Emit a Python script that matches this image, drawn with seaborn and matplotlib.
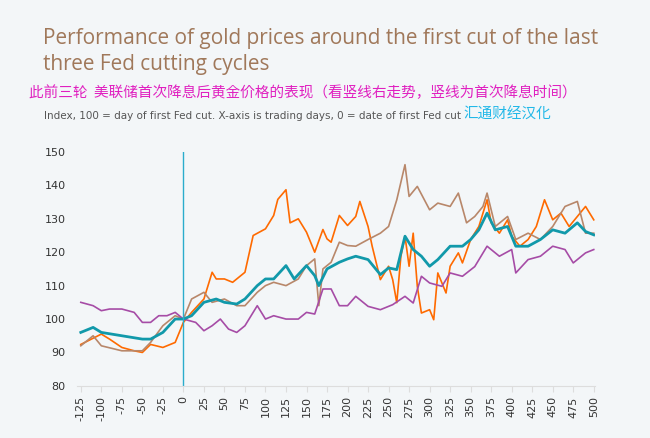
import matplotlib
matplotlib.use("Agg")
import matplotlib.pyplot as plt
import seaborn as sns
from matplotlib import font_manager

orange_x = [-125,-100,-90,-75,-60,-50,-40,-25,-10,0,10,25,35,40,50,60,75,85,100,110,115,125,130,140,150,160,170,175,180,190,200,210,215,225,230,240,250,255,260,265,270,275,280,285,290,300,305,310,320,325,335,340,350,360,370,375,385,395,400,410,420,430,440,450,460,470,480,490,500]
orange_y = [92.4,95.5,94,91.5,90.5,90,92.4,91.5,93,99,102,106,114,112,112,111,114,125,127,131,135.8,138.7,128.8,130,126,120,126.8,124,123,131,128,130.7,135.2,127.7,121.8,111.8,115.8,111.8,104.9,118.8,124.8,115.8,125.7,109.8,101.8,102.8,99.8,113.8,107.8,115.8,119.8,116.8,123.8,127.7,135.7,128.8,125.7,129.7,124.8,121.8,123.8,127.7,135.7,129.7,131.7,127.7,130.7,133.7,129.7]
brown_x = [-125,-110,-100,-75,-50,-40,-25,-10,0,10,25,35,50,65,75,90,100,110,125,140,150,160,165,170,180,190,200,210,225,240,250,260,270,275,285,300,310,325,335,345,355,365,370,380,395,405,420,435,450,465,480,490,500]
brown_y = [92,95,92,90.5,90.5,93,98,101,100,106,108,105,106,104,104,108,110,111,110,112,116,118,104,115,117,123,122,121.8,123.8,125.7,127.7,135.7,146.2,136.7,139.7,132.7,134.7,133.7,137.7,128.8,130.7,133.7,137.7,127.7,130.7,123.8,125.7,123.8,127.7,133.7,135.2,125.7,125.7]
teal_x = [-125,-110,-100,-75,-50,-40,-25,-10,0,10,25,40,50,65,75,90,100,110,125,135,150,160,165,175,190,200,210,225,240,250,260,270,280,290,300,310,325,340,350,360,370,380,395,405,420,435,450,465,480,490,500]
teal_y = [96,97.5,96,95,94,94,96,100,100,101,105,106,105,104.5,106,110,112,112,116,112,116,113,110,115,117,118,118.8,117.8,113.3,115.3,114.8,124.8,120.8,118.8,115.8,117.8,121.8,121.8,123.8,126.7,131.7,126.7,127.7,121.8,121.8,123.8,126.7,125.7,128.8,126.2,125.2]
purple_x = [-125,-110,-100,-90,-75,-60,-50,-40,-30,-20,-10,0,15,25,35,45,55,65,75,90,100,110,125,140,150,160,170,180,190,200,210,225,240,255,270,280,290,300,315,325,340,355,370,385,400,405,420,435,450,465,475,490,500]
purple_y = [105,104,102.5,103,103,102,99,99,101,101,102,100,99,96.5,98,100,97,96,98,104,100,101,100,100,102,101.5,109,109,104,104,106.8,103.8,102.8,104.3,106.8,104.8,112.8,110.8,109.8,113.8,112.8,115.7,121.8,118.8,120.8,113.8,117.8,118.8,121.8,120.8,116.8,119.8,120.8]
x_ticks = list(range(-125, 501, 25))

names = {f.name for f in font_manager.fontManager.ttflist}
cjk = next((n for n in ["Noto Sans CJK SC", "Noto Sans CJK JP", "Noto Sans CJK TC", "Noto Sans CJK KR"] if n in names), "DejaVu Sans")

bg = "#f3f6f8"
fig = plt.figure(figsize=(6.5, 4.38), dpi=100, facecolor=bg)
ax = fig.add_axes([0.118, 0.119, 0.798, 0.534], facecolor=bg)

series = [(orange_x, orange_y, "#ff6a00", 1.2), (brown_x, brown_y, "#b8876a", 1.2),
          (purple_x, purple_y, "#a64ca6", 1.2), (teal_x, teal_y, "#1199aa", 2.0)]
for xs, ys, c, lw in series:
    sns.lineplot(x=xs, y=ys, ax=ax, color=c, linewidth=lw)
ax.axvline(0, color="#2aaccc", linewidth=1)
ax.set_xlim(-130, 502)
ax.set_ylim(80, 150)
ax.set_xticks(x_ticks)
ax.set_xticklabels([str(t) for t in x_ticks], rotation=90, fontsize=8, color="#333333")
ax.set_yticks(range(80, 151, 10))
ax.tick_params(axis="y", length=0, labelsize=8, labelcolor="#333333", pad=8)
ax.tick_params(axis="x", length=4, color="#dddddd")
for s in ["top", "right", "left"]:
    ax.spines[s].set_visible(False)
ax.spines["bottom"].set_color("#dddddd")

fig.text(0.066, 0.935, "Performance of gold prices around the first cut of the last\nthree Fed cutting cycles",
         fontsize=15, color="#a0785a", va="top", linespacing=1.3, family="Open Sans")
fig.text(0.045, 0.788, "此前三轮  美联储首次降息后黄金价格的表现（看竖线右走势，竖线为首次降息时间）",
         fontsize=10.5, color="#e020c0", family=cjk, va="center")
fig.text(0.068, 0.735, "Index, 100 = day of first Fed cut. X-axis is trading days, 0 = date of first Fed cut",
         fontsize=7.5, color="#555555", va="center")
fig.text(0.713, 0.738, "汇通财经汉化", fontsize=10.5, color="#22b8e8", family=cjk, va="center")
fig.savefig("out.png", dpi=100, facecolor=bg)
